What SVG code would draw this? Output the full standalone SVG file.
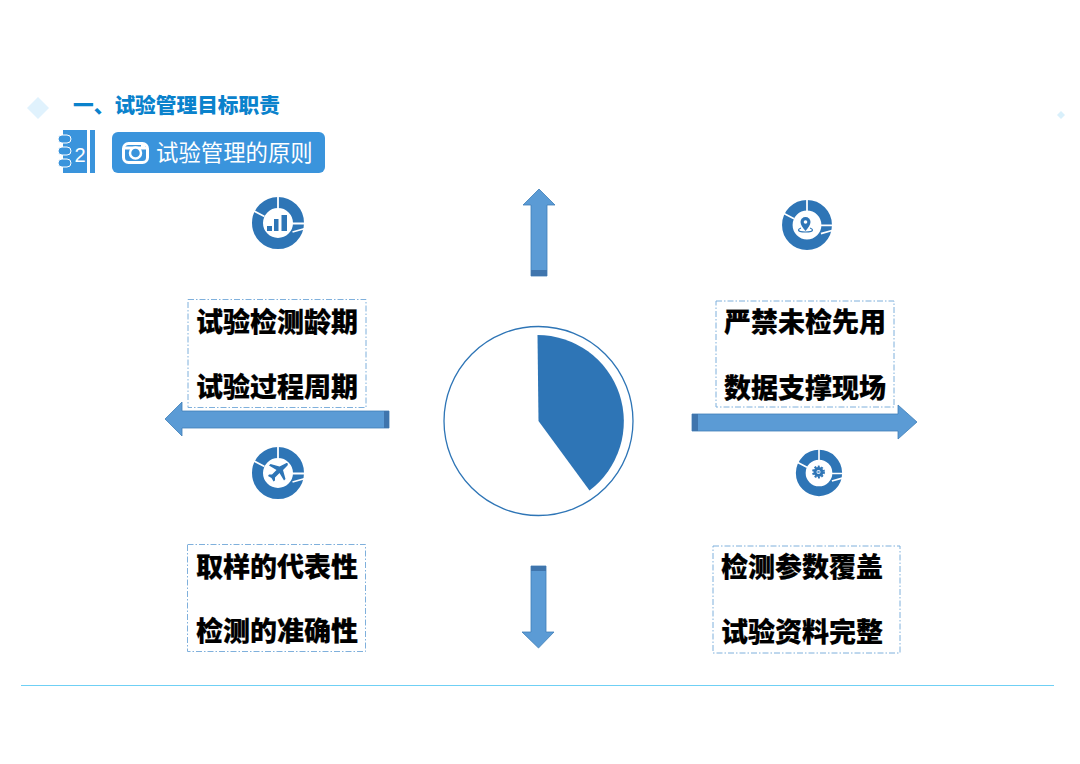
<svg xmlns="http://www.w3.org/2000/svg" width="1080" height="764" viewBox="0 0 1080 764">
<style>
.cjk{font-family:"Noto Sans CJK SC","Noto Sans",sans-serif}
.lbl{font-size:27px;font-weight:900;fill:#000;stroke:#000;stroke-width:.2px;text-anchor:middle}
.box{fill:#fff;stroke:#7fb0dc;stroke-width:1;stroke-dasharray:6 2 1.5 2}
.arr{fill:#5b9bd5;stroke:#3f7fb8;stroke-width:.8}
.arrd{fill:#3f75ad}
.ring{fill:none;stroke:#2e75b6}
.gap{stroke:#fff;stroke-width:1.800;fill:none}
.ico{fill:#2e75b6}
</style>
<rect width="1080" height="764" fill="#fff"/>
<g id="header">
<polygon points="38,97 49,108 38,119 27,108" fill="#e0f2fd"/>
<polygon points="1061,111 1065,115 1061,119 1057,115" fill="#d9f0fb"/>
<text class="cjk" x="73" y="113" font-size="20.700" font-weight="900" fill="#0a82cc">一、试验管理目标职责</text>
<rect x="21" y="685" width="1033" height="1" fill="#6fd0f5"/>
</g>
<g id="notebook">
<rect x="63" y="130" width="24" height="43" fill="#3a94dc"/>
<rect x="90" y="130" width="5" height="43" fill="#3a94dc"/>
<g fill="#3a94dc" stroke="#fff" stroke-width="1"><rect x="58" y="135" width="13" height="8" rx="4"/><rect x="58" y="147" width="13" height="8" rx="4"/><rect x="58" y="159" width="13" height="8" rx="4"/></g>
<text x="80" y="162" font-family="Liberation Sans,sans-serif" font-size="20" fill="#fff" text-anchor="middle">2</text>
</g>
<g id="badge">
<rect x="112" y="132" width="213" height="41" rx="6" fill="#3a94dc"/>
<rect x="123.500" y="143.500" width="24" height="19" rx="5" fill="none" stroke="#fff" stroke-width="3"/>
<path d="M123 148h25" stroke="#fff" stroke-width="3"/>
<circle cx="135.500" cy="153" r="5.500" fill="#3a94dc" stroke="#fff" stroke-width="2.500"/>
<rect x="141" y="145" width="4" height="3" fill="#fff"/>
<text class="cjk" x="156" y="161" font-size="22.400" fill="#fff">试验管理的原则</text>
</g>
<g id="connectors">
<g id="arrow-up"><polygon class="arr" points="539,189 555,205 547,205 547,276 531,276 531,205 523,205"/><rect class="arrd" x="531" y="270" width="16" height="6"/></g>
<g id="arrow-down"><polygon class="arr" points="538.500,648 554,632 546,632 546,566 531,566 531,632 522,632"/><rect class="arrd" x="531" y="566" width="15" height="5"/></g>
<g id="arrow-left"><polygon class="arr" points="165,419 182,402 182,411 389,411 389,428 182,428 182,436"/><rect class="arrd" x="384" y="411" width="5" height="17"/></g>
<g id="arrow-right"><polygon class="arr" points="917,422 898,405 898,414 692,414 692,431 898,431 898,439"/><rect class="arrd" x="692" y="414" width="6" height="17"/></g>
</g>
<g id="center">
<circle cx="538.500" cy="421" r="94.500" fill="#fff" stroke="#2e75b6" stroke-width="1.300"/>
<path d="M537.500 335A86.500 86.500 0 0 1 589.500 490.500L538.500 421Z" fill="#2e75b6"/>
</g>
<g id="box-tl">
<rect class="box" x="188" y="299.500" width="178" height="108"/>
<text class="cjk lbl" x="277" y="332">试验检测龄期</text>
<text class="cjk lbl" x="277" y="397">试验过程周期</text>
</g>
<g id="box-tr">
<rect class="box" x="716" y="301" width="178" height="106"/>
<text class="cjk lbl" x="805" y="332">严禁未检先用</text>
<text class="cjk lbl" x="805" y="398">数据支撑现场</text>
</g>
<g id="box-bl">
<rect class="box" x="187.500" y="544.500" width="178" height="107"/>
<text class="cjk lbl" x="277" y="577">取样的代表性</text>
<text class="cjk lbl" x="277" y="641">检测的准确性</text>
</g>
<g id="box-br">
<rect class="box" x="713" y="546" width="187" height="107"/>
<text class="cjk lbl" x="802" y="577">检测参数覆盖</text>
<text class="cjk lbl" x="802" y="642">试验资料完整</text>
</g>
<defs>
<g id="ringmark">
<circle class="ring" r="20.500" stroke-width="11"/>
<path class="gap" d="M0-27V-14M-26-13L-13.500-6.500M14 .5L27 .5M14.500 9L27 5.500"/>
</g>
</defs>
<g id="icon-chart">
<use href="#ringmark" x="278" y="223"/>
<rect class="ico" x="267" y="226" width="5" height="5"/><rect class="ico" x="274" y="219" width="4.500" height="12"/><rect class="ico" x="281.500" y="215" width="5.500" height="16"/>
</g>
<g id="icon-plane">
<use href="#ringmark" x="278" y="473"/>
<path class="ico" d="M285.500 463.500c2-1 3 0 2 2l-4.500 4.500 2.500 9-1.500 1.500-4.500-7.500-4.500 4.500v3l-1.500 1-2-3.500-3.500-2 1-1.500h3l4.500-4.500-7.500-4.500 1.500-1.500 9 2.500z"/>
</g>
<g id="icon-pin">
<use href="#ringmark" transform="translate(807 225) scale(.96)"/>
<path class="ico" d="M805.500 217a5 5 0 0 1 5 5c0 3-2.500 6-5 9c-2.500-3-5-6-5-9a5 5 0 0 1 5-5z"/>
<circle cx="805.500" cy="222" r="1.800" fill="#fff"/>
<path d="M801 228c-1.500.5-2.500 1.200-2.500 2c0 1 3 2 7 2s7-1 7-2c0-.8-1-1.500-2.500-2" fill="none" stroke="#2e75b6" stroke-width="1.200"/>
</g>
<g id="icon-gear">
<use href="#ringmark" transform="translate(819 473) scale(.89)"/>
<circle cx="818.500" cy="472" r="3.500" fill="none" stroke="#2e75b6" stroke-width="3"/>
<circle cx="818.500" cy="472" r="5.500" fill="none" stroke="#2e75b6" stroke-width="1.800" stroke-dasharray="2 1.500"/>
<circle cx="818.500" cy="472" r="1.300" fill="#5b9bd5"/>
</g>
</svg>
